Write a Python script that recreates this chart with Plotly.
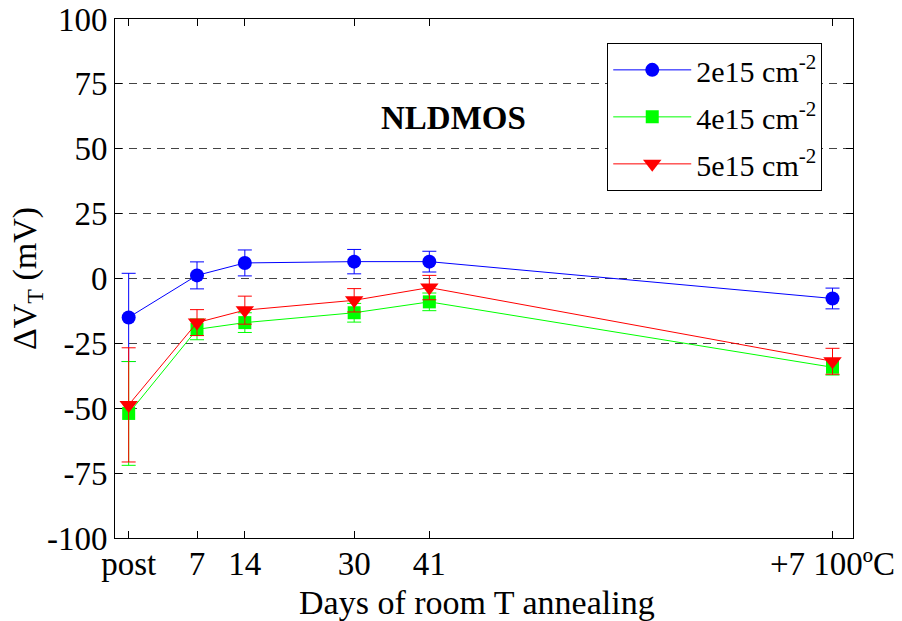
import plotly.graph_objects as go

days = [-3, 7, 14, 30, 41, 100]
tick_text = ["post", "7", "14", "30", "41", "+7 100ºC"]

v_2e15 = [-15.0, 1.2, 6.0, 6.5, 6.5, -7.7]
e_2e15 = [17.0, 5.2, 5.0, 4.7, 4.0, 4.0]
v_4e15 = [-52.0, -19.6, -17.0, -13.2, -9.0, -34.2]
e_4e15 = [20.0, 4.0, 3.8, 3.6, 3.4, 3.0]
v_5e15 = [-48.7, -17.0, -12.2, -8.4, -3.5, -31.9]
e_5e15 = [22.0, 5.0, 5.4, 4.5, 4.7, 5.0]

series = [
    ("2e15 cm<sup>-2</sup>", v_2e15, e_2e15, "#0000ff", "circle", 14),
    ("4e15 cm<sup>-2</sup>", v_4e15, e_4e15, "#00ff00", "square", 13),
    ("5e15 cm<sup>-2</sup>", v_5e15, e_5e15, "#ff0000", "triangle-down", 16),
]

FONT = "Liberation Serif"
fig = go.Figure()
for i, (name, v, e, c, sym, sz) in enumerate(series):
    fig.add_trace(go.Scatter(
        x=days, y=v, name=name, mode="lines+markers", legendgroup=f"g{i}",
        line=dict(color=c, width=1),
        marker=dict(symbol=sym, size=sz, color=c, line=dict(width=0)),
        error_y=dict(type="data", array=e, visible=True, color=c, thickness=1, width=7),
    ))

fig.add_annotation(x=44.6, y=62, text="<b>NLDMOS</b>", showarrow=False,
                   font=dict(family=FONT, size=33, color="black"))

fig.add_annotation(x=0.4905, y=-0.125, xref="paper", yref="paper",
                   text="Days of room T annealing", showarrow=False,
                   xanchor="center", yanchor="middle",
                   font=dict(family=FONT, size=34, color="black"))

axis_common = dict(
    showline=True, linecolor="black", linewidth=1, mirror="ticks",
    ticks="inside", ticklen=7, tickcolor="black", tickwidth=1,
    zeroline=False, automargin=False,
    tickfont=dict(family=FONT, size=33, color="black"),
)

fig.update_xaxes(range=[-5, 103], tickmode="array", tickvals=days, ticktext=tick_text,
                 showgrid=False, ticklabelstandoff=-4,
                 **axis_common)
fig.update_yaxes(range=[-100, 100], tickmode="array",
                 tickvals=[-100, -75, -50, -25, 0, 25, 50, 75, 100],
                 ticktext=["-100", "-75", "-50", "-25", "0", "25", "50", "75", "100"],
                 showgrid=True, gridcolor="#444444", gridwidth=1, griddash="8px,6px",
                 title=dict(text="ΔV<sub>T</sub> (mV)", font=dict(family=FONT, size=34, color="black"),
                            standoff=0),
                 **axis_common)

fig.update_layout(
    width=902, height=621,
    margin=dict(l=115, r=49, t=19, b=83),
    plot_bgcolor="white", paper_bgcolor="white",
    font=dict(family=FONT, size=29, color="black"),
    legend=dict(x=0.667, y=0.954, xanchor="left", yanchor="top",
                bgcolor="white", bordercolor="black", borderwidth=1,
                font=dict(family=FONT, size=30, color="black"),
                itemwidth=78, tracegroupgap=5),
    showlegend=True,
)

fig.write_html("out.html")
